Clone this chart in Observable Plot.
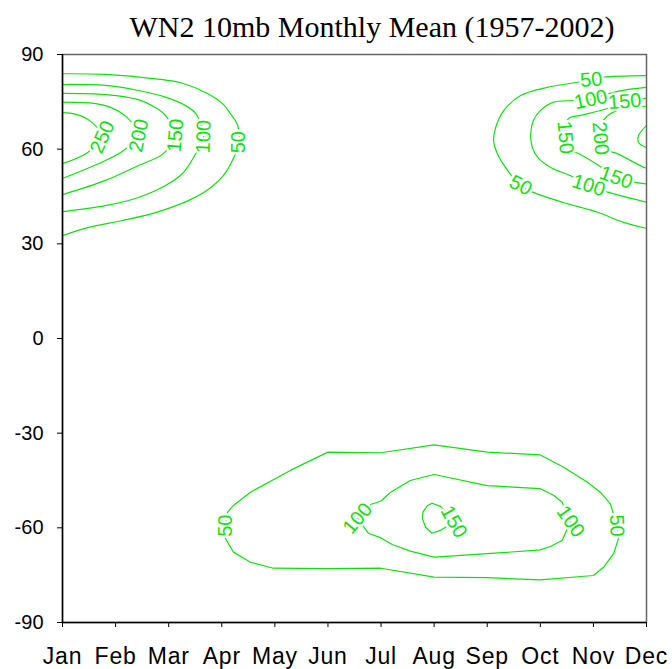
<!DOCTYPE html>
<html>
<head>
<meta charset="utf-8">
<script src="https://cdn.jsdelivr.net/npm/d3@7"></script>
<script src="https://cdn.jsdelivr.net/npm/@observablehq/plot@0.6"></script>
<style>
  html, body { margin: 0; padding: 0; background: #fff; }
  #wrap { position: relative; width: 672px; height: 669px; }
  #title { position: absolute; left: 372px; top: 12px; transform: translateX(-50%);
           font-family: "Liberation Serif", "Times New Roman", serif; font-size: 30px;
           line-height: 30px; white-space: nowrap; color: #000; }
  #chart { position: absolute; left: 0; top: 44px; }
  #chart svg { overflow: visible; }
  #chart g[aria-label="x-axis tick label"] text { letter-spacing: 0.8px; }
</style>
</head>
<body>
<div id="wrap">
  <div id="title">WN2 10mb Monthly Mean (1957-2002)</div>
  <div id="chart"></div>
</div>
<script>
// ---- tick labels ----
const months = ["Jan","Feb","Mar","Apr","May","Jun","Jul","Aug","Sep","Oct","Nov","Dec"];
const latTicks = [-90, -60, -30, 0, 30, 60, 90];

// ---- contour lines: [month index (0 = Jan), latitude] ----
// Northern hemisphere, winter (Jan - Apr)
const nhWest50  = [[0,83.9],[0.81,83.7],[1.75,82.3],[2.26,80.9],[2.75,77.5],[3.01,74.5],[3.16,71.3],[3.30,67.5],[3.32,61.8],[3.20,56.4],[3.03,51.6],[2.79,47.8],[2.37,43.7],[1.75,39.9],[1.13,37.4],[0.49,35.2],[0,32.6]];
const nhWest100 = [[0,80.5],[0.81,80.2],[1.43,78.6],[1.94,76.5],[2.32,73.8],[2.51,71.3],[2.62,67.5],[2.66,64.0],[2.47,57.4],[2.26,52.3],[1.94,48.5],[1.43,44.7],[0.81,42.1],[0,40.2]];
const nhWest150 = [[0,77.7],[0.81,77.3],[1.43,75.7],[1.75,73.2],[1.95,70.5],[2.13,64.3],[1.90,58.6],[1.43,54.8],[0.81,50.1],[0,45.6]];
const nhWest200 = [[0,74.9],[0.81,73.8],[1.22,70.0],[1.43,64.3],[1.15,59.6],[0.81,56.4],[0,50.7]];
const nhWest250 = [[0,71.6],[0.24,71.1],[0.53,68.8],[0.75,63.7],[0.47,58.9],[0,55.4]];
// Northern hemisphere, autumn / early winter (Sep - Dec)
const nhEast50  = [[11,83.3],[10.19,82.8],[9.96,82.0],[9.70,81.2],[9.13,79.6],[8.63,77.0],[8.31,72.2],[8.16,66.9],[8.12,62.7],[8.19,58.6],[8.34,54.3],[8.63,48.5],[8.87,46.3],[9.43,43.1],[10.08,40.0],[10.57,36.8],[11,34.9]];
const nhEast100 = [[11,79.6],[10.5,78.5],[10.2,77.2],[9.95,75.7],[9.25,74.9],[9.00,72.2],[8.87,69.1],[8.82,65.0],[8.85,60.5],[8.97,57.0],[9.23,53.9],[9.57,51.6],[9.91,48.5],[10.27,46.4],[11,43.2]];
const nhEast150 = [[11,76.1],[10.59,75.1],[10.26,72.9],[9.76,70.7],[9.53,69.7],[9.47,63.7],[9.60,59.5],[9.72,58.6],[10.10,54.8],[10.43,51.0],[10.79,49.5],[11,49.0]];
const nhEast200 = [[11,73.6],[10.6,73.0],[10.3,71.0],[10.15,68.0],[10.13,63.4],[10.25,59.8],[10.45,58.6],[10.94,54.3],[11,54.0]];
const nhEast250 = [[11,67.5],[10.85,64.3],[10.85,62.1],[11,60.5]];
// Southern hemisphere (Apr - Nov)
const sh50  = [[9,-36.9],[8,-36.0],[7,-33.7],[6,-36.2],[5,-36.0],[4.29,-41.8],[3.54,-48.7],[3.22,-52.9],[3.11,-55.0],[3.07,-59.3],[3.07,-63.4],[3.22,-67.7],[3.54,-70.9],[3.97,-72.8],[5,-72.9],[6,-72.8],[7,-75.6],[8,-75.8],[9,-76.5],[10,-75.1],[10.19,-72.5],[10.38,-68.2],[10.47,-63.5],[10.44,-59.3],[10.32,-52.4],[10.13,-48.7],[9.88,-45.5],[9.44,-40.8],[9,-36.9]];
const sh100 = [[7,-43.1],[6.55,-45.0],[6.18,-48.7],[6,-51.5],[5.80,-52.6],[5.56,-57.0],[5.76,-61.7],[6,-63.2],[6.21,-65.3],[6.55,-67.4],[7,-69.3],[8,-68.2],[9,-67.0],[9.19,-65.9],[9.41,-64.0],[9.57,-58.0],[9.41,-51.9],[9.25,-49.7],[9,-47.6],[8,-46.6],[7,-43.1]];
const sh150 = [[7.12,-53.2],[6.96,-52.2],[6.87,-53.0],[6.79,-55.0],[6.78,-57.1],[6.84,-59.8],[6.96,-61.7],[7.12,-60.8],[7.40,-58.0],[7.12,-53.2]];

// ---- contour labels: [level, month, latitude] ----
const contourLabels = [
  [250,0.75,63.8],[200,1.44,64.3],[150,2.13,64.3],[100,2.66,64.0],[50,3.32,62.2],
  [50,9.96,82.0],[100,9.95,75.7],[150,10.59,75.1],[150,9.47,63.7],[200,10.13,63.4],
  [50,8.63,48.5],[100,9.91,48.5],[150,10.43,51.0],
  [50,3.07,-59.3],[100,5.56,-57.0],[150,7.37,-58.1],[100,9.57,-58.0],[50,10.44,-59.3]
];
// label text orientation (degrees), same order as contourLabels
const labelAngles = [-66,-78,-85,-88,-90, -5,-12,-5,85,85, 28,18,20, -90,-50,60,55,88];

const GREEN = "#10e010";

const nhContours = [
  ["w50",50,nhWest50],["w100",100,nhWest100],["w150",150,nhWest150],["w200",200,nhWest200],["w250",250,nhWest250],
  ["e50",50,nhEast50],["e100",100,nhEast100],["e150",150,nhEast150],["e200",200,nhEast200],["e250",250,nhEast250]
];
const shContours = [["s50",50,sh50],["s100",100,sh100],["s150",150,sh150]];
const toRows = list => list.flatMap(([id, level, pts]) => pts.map(([m, lat]) => ({id, level, month: m, lat})));
const nhRows = toRows(nhContours);
const shRows = toRows(shContours);
const labelRows = contourLabels.map(([level, m, lat], i) => ({text: String(level), month: m, lat, angle: labelAngles[i]}));

const chart = Plot.plot({
  width: 672,
  height: 625,
  marginTop: 10,
  marginBottom: 47,
  marginLeft: 62,
  marginRight: 26,
  style: {fontFamily: "'Liberation Sans', Arial, sans-serif", background: "white", color: "black", overflow: "visible"},
  x: {domain: [0, 11]},
  y: {domain: [-90, 90]},
  marks: [
    Plot.line(nhRows, {x: "month", y: "lat", z: "id", stroke: GREEN, strokeWidth: 1.2, curve: "catmull-rom", clip: true}),
    Plot.line(shRows, {x: "month", y: "lat", z: "id", stroke: GREEN, strokeWidth: 1.2, curve: "linear", clip: true}),
    Plot.text(labelRows, {x: "month", y: "lat", text: "text", rotate: "angle", fill: GREEN, stroke: "white", strokeWidth: 5, fontSize: 20}),
    Plot.frame({stroke: "#666", strokeWidth: 1.5}),
    Plot.ruleX([0], {stroke: "black", strokeWidth: 1.5}),
    Plot.ruleY([-90], {stroke: "black", strokeWidth: 1.5}),
    Plot.axisX(d3.range(12), {tickFormat: i => months[i], tickSize: 5, tickPadding: 20, fontSize: 23, label: null, stroke: "black"}),
    Plot.axisY(latTicks, {tickFormat: d => String(d), tickSize: 5, tickPadding: 14, fontSize: 20, label: null, stroke: "black"})
  ]
});
document.getElementById("chart").appendChild(chart);
</script>
</body>
</html>
